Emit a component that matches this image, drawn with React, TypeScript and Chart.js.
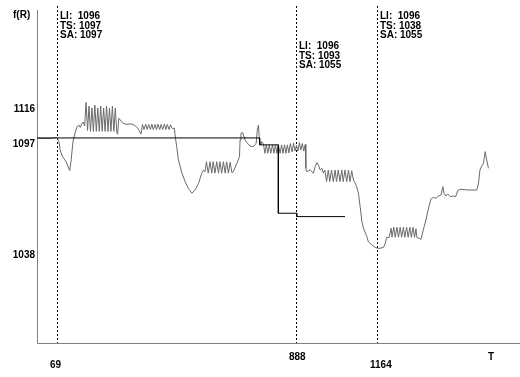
import React, { useEffect, useRef } from "react";
import { Chart, registerables } from "chart.js";
Chart.register(...registerables);

// TS series (gray)
const tsT = [
  4, 28, 52, 66, 71, 76, 79, 86, 93, 100,
  107, 112, 117, 123, 131, 137, 143, 148, 153, 158,
  163, 168, 173, 178, 183, 188, 193, 198, 203, 208,
  213, 218, 223, 228, 233, 238, 243, 248, 253, 258,
  263, 268, 273, 276, 280, 294, 305, 322, 333, 345,
  356, 361, 366, 372, 377, 382, 388, 393, 398, 404,
  409, 414, 420, 425, 430, 436, 441, 446, 452, 457,
  463, 470, 474, 478, 484, 496, 507, 518, 530, 541,
  553, 564, 570, 575, 580, 586, 592, 598, 603, 609,
  615, 621, 626, 632, 638, 644, 649, 655, 661, 667,
  672, 684, 693, 695, 698, 704, 712, 720, 729, 741,
  750, 754, 758, 761, 766, 769, 775, 780, 785, 790,
  795, 800, 806, 811, 816, 821, 826, 832, 837, 842,
  847, 852, 857, 862, 867, 873, 878, 883, 888, 893,
  898, 903, 908, 913, 918, 920, 923, 935, 946, 952,
  958, 963, 969, 975, 980, 985, 991, 997, 1002, 1008,
  1014, 1020, 1025, 1031, 1037, 1043, 1048, 1054, 1060, 1066,
  1071, 1077, 1083, 1089, 1094, 1100, 1106, 1112, 1117, 1129,
  1134, 1146, 1157, 1166, 1174, 1186, 1191, 1197, 1205, 1212,
  1215, 1221, 1226, 1232, 1237, 1243, 1248, 1254, 1259, 1265,
  1270, 1276, 1281, 1287, 1292, 1297, 1300, 1314, 1322, 1331,
  1340, 1348, 1357, 1365, 1374, 1383, 1389, 1393, 1399, 1406,
  1414, 1425, 1433, 1440, 1448, 1476, 1505, 1511, 1516, 1522,
  1528, 1534, 1539, 1545,
];
const tsV = [
  1096.7, 1096.7, 1096.8, 1097.3, 1096.5, 1094.3, 1090.6, 1087.4, 1085.8, 1084.2,
  1081.5, 1079.6, 1085.3, 1094.9, 1100.2, 1102.9, 1103.9, 1102.6, 1104.5, 1105.5,
  1103.4, 1116, 1101, 1114, 1100.5, 1113, 1100.5, 1114.5, 1100.5, 1113,
  1100.5, 1114, 1100.5, 1113, 1100.5, 1114, 1100.5, 1113, 1100.5, 1114,
  1100.5, 1113, 1100, 1099, 1107.5, 1104.9, 1104.3, 1104.5, 1103.9, 1102.2,
  1099.1, 1104.2, 1101.5, 1104.4, 1101.5, 1104.2, 1101.5, 1104.4, 1101.5, 1104.2,
  1101.5, 1104.4, 1101.5, 1104.2, 1101.5, 1104.4, 1101.5, 1104.2, 1101.5, 1104,
  1102, 1102.2, 1096.8, 1092.4, 1085.3, 1078.2, 1073.7, 1070.1, 1067.5, 1069.2,
  1072.8, 1078.2, 1079.9, 1079, 1084.3, 1078.2, 1084.3, 1078.2, 1084.3, 1078.2,
  1084.3, 1078.2, 1084.3, 1078.2, 1084.3, 1078.2, 1084.3, 1078.2, 1084, 1078.5,
  1079, 1083.5, 1087, 1095.9, 1099.5, 1099.8, 1095.9, 1094.2, 1092.7, 1092.4,
  1094.2, 1101.3, 1103.9, 1095.9, 1093.3, 1095, 1093.8, 1088.8, 1093.3, 1088.8,
  1093.3, 1088.8, 1093.3, 1088.8, 1093.3, 1088.8, 1093.3, 1088.8, 1093.3, 1088.8,
  1093.3, 1088.8, 1093.3, 1089, 1094, 1089.5, 1094.3, 1090, 1093, 1090,
  1094.5, 1090.5, 1094, 1090, 1093.5, 1080.8, 1079, 1079.9, 1078.2, 1081.7,
  1083.8, 1082.6, 1079.9, 1080.8, 1078.2, 1079.9, 1073.7, 1079.9, 1073.7, 1079.9,
  1073.7, 1079.9, 1073.7, 1079.9, 1073.7, 1079.9, 1073.7, 1079.9, 1073.7, 1079.9,
  1073.7, 1079.5, 1074.5, 1072.8, 1071, 1067.5, 1060.3, 1052.2, 1049, 1044.3,
  1041.6, 1039.9, 1038.6, 1038.1, 1038.1, 1038.6, 1040.4, 1044, 1043.8, 1048.8,
  1044, 1049.3, 1044, 1049.3, 1044, 1049.3, 1044, 1049.3, 1044, 1049.3,
  1044, 1049.3, 1044, 1049.3, 1044, 1048.5, 1044, 1042.9, 1047.9, 1053.2,
  1059.5, 1064.3, 1065.3, 1064.8, 1066, 1066.6, 1071, 1067.5, 1066, 1067.1,
  1065.7, 1066, 1065.7, 1068.9, 1069.6, 1069.2, 1069.2, 1072.8, 1079.9, 1082,
  1083.5, 1089.7, 1085.3, 1080.8,
];

// SA series (black step line)
const saT = [0, 762, 762, 826, 826, 889, 889, 1054];
const saV = [1097, 1097, 1093.3, 1093.3, 1056.8, 1056.8, 1055, 1055];

// Cursor markers
const markerT = [69, 888, 1164];
const markerLI = [1096, 1096, 1096];
const markerTS = [1097, 1093, 1038];
const markerSA = [1097, 1055, 1055];

const yTicks = [1116, 1097, 1038];
const yTitle = "f(R)";
const xTitle = "T";

const X_MIN = 0;
const X_MAX = 1653;
const Y_MIN = 987;
const Y_MAX = 1165.3;

export default function App() {
  const ref = useRef<HTMLCanvasElement>(null);

  useEffect(() => {
    if (!ref.current) return;
    const FONT = 'bold 10px "Liberation Sans", Arial, sans-serif';
    const annoTop = [16, 46, 16];

    const overlay = {
      id: "overlay",
      beforeDatasetsDraw(chart: any) {
        const ctx = chart.ctx;
        const xs = chart.scales.x;
        const ys = chart.scales.y;
        const a = chart.chartArea;
        ctx.save();
        // axes
        ctx.strokeStyle = "#808080";
        ctx.lineWidth = 1;
        ctx.beginPath();
        ctx.moveTo(Math.round(a.left) + 0.5, a.top);
        ctx.lineTo(Math.round(a.left) + 0.5, Math.round(a.bottom) - 0.5);
        ctx.lineTo(chart.width, Math.round(a.bottom) - 0.5);
        ctx.stroke();
        // dashed markers
        ctx.strokeStyle = "#000";
        ctx.setLineDash([2, 2]);
        markerT.forEach((t) => {
          const px = Math.floor(xs.getPixelForValue(t)) + 0.5;
          ctx.beginPath();
          ctx.moveTo(px, 6);
          ctx.lineTo(px, Math.round(a.bottom) - 1);
          ctx.stroke();
        });
        ctx.restore();
      },
      afterDatasetsDraw(chart: any) {
        const ctx = chart.ctx;
        const xs = chart.scales.x;
        const ys = chart.scales.y;
        const a = chart.chartArea;
        ctx.save();
        ctx.font = FONT;
        ctx.fillStyle = "#000";
        ctx.textBaseline = "middle";
        // y tick labels
        ctx.textAlign = "right";
        yTicks.forEach((v) => {
          ctx.fillText(String(v), a.left - 2, ys.getPixelForValue(v) + 6.5);
        });
        // y title
        ctx.textAlign = "left";
        ctx.fillText(yTitle, 13, 15.5);
        // x tick labels
        markerT.forEach((t, i) => {
          const px = Math.floor(xs.getPixelForValue(t));
          ctx.fillText(String(t), px - 7, i % 2 === 0 ? 365 : 357);
        });
        ctx.textAlign = "center";
        ctx.fillText(xTitle, 491, 357);
        // annotations
        ctx.textAlign = "left";
        markerT.forEach((t, i) => {
          const px = Math.floor(xs.getPixelForValue(t)) + 3;
          const top = annoTop[i];
          ctx.fillText(`LI:  ${markerLI[i]}`, px, top);
          ctx.fillText(`TS: ${markerTS[i]}`, px, top + 9.8);
          ctx.fillText(`SA: ${markerSA[i]}`, px, top + 19.6);
        });
        ctx.restore();
      },
    };

    const chart = new Chart(ref.current, {
      type: "line",
      data: {
        datasets: [
          {
            label: "SA",
            data: saT.map((t, i) => ({ x: t, y: saV[i] })),
            borderColor: "#000000",
            borderWidth: 1,
            pointRadius: 0,
            tension: 0,
            fill: false,
          },
          {
            label: "TS",
            data: tsT.map((t, i) => ({ x: t, y: tsV[i] })),
            borderColor: "#6a6a6a",
            borderWidth: 1,
            pointRadius: 0,
            tension: 0,
            fill: false,
          },
        ],
      },
      options: {
        responsive: false,
        animation: false,
        devicePixelRatio: 1,
        layout: { padding: { left: 37, right: 0, top: 10, bottom: 33 } },
        scales: {
          x: { type: "linear", min: X_MIN, max: X_MAX, display: false },
          y: { type: "linear", min: Y_MIN, max: Y_MAX, display: false },
        },
        plugins: {
          legend: { display: false },
          tooltip: { enabled: false },
        },
      },
      plugins: [overlay],
    } as any);
    return () => chart.destroy();
  }, []);

  return (
    <div style={{ position: "fixed", left: 0, top: 0, width: 520, height: 377, background: "#fff" }}>
      <canvas ref={ref} width={520} height={377} style={{ display: "block" }} />
    </div>
  );
}
